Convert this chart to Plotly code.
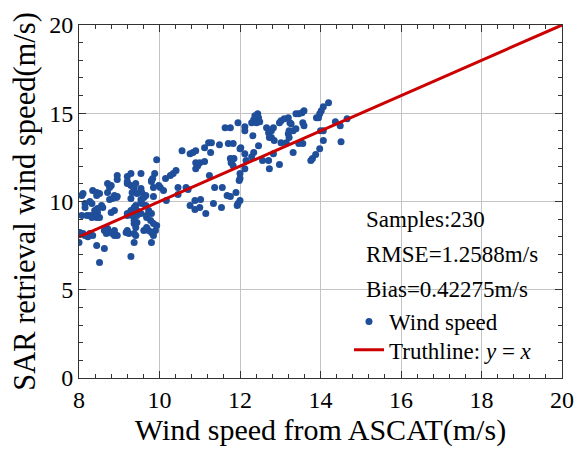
import plotly.graph_objects as go

# ASCAT wind speed (x) vs SAR retrieved wind speed (y)
ascat = [
    8.71, 8.80, 8.76, 9.20, 9.29, 9.80, 9.85, 10.02, 10.10, 8.10,
    8.07, 8.34, 8.44, 8.51, 8.44, 8.71, 8.88, 8.93, 8.83, 9.37,
    9.54, 9.56, 9.44, 9.32, 9.66, 9.61, 8.15, 8.56, 8.59, 8.32,
    9.41, 9.37, 9.56, 9.66, 8.07, 8.20, 8.27, 8.39, 8.46, 8.51,
    8.44, 8.32, 8.46, 8.39, 8.88, 8.80, 9.29, 9.37, 9.44, 9.54,
    9.44, 9.20, 9.32, 9.73, 9.68, 9.80, 9.78, 9.85, 9.37, 9.44,
    8.02, 8.10, 8.27, 8.34, 8.15, 8.63, 8.71, 8.68, 8.80, 8.83,
    8.88, 8.95, 9.17, 9.24, 9.20, 9.37, 9.41, 9.73, 9.80, 9.90,
    9.85, 8.00, 8.44, 8.63, 9.37, 9.80, 8.51, 9.29, 9.93, 8.95,
    8.95, 9.20, 9.29, 9.20, 9.54, 9.88, 9.83, 9.80, 10.15, 10.27,
    9.41, 8.27, 8.76, 8.95, 9.29, 9.54, 9.85, 8.15, 8.02, 8.22,
    8.88, 9.41, 9.61, 9.68, 9.93, 9.68, 9.37, 9.20, 9.54, 10.56,
    10.76, 10.83, 10.90, 11.12, 11.27, 11.49, 11.71, 11.83, 12.02, 12.12,
    11.76, 11.85, 11.78, 11.83, 10.90, 11.00, 11.12, 10.95, 10.90, 12.12,
    10.41, 10.34, 11.24, 12.00, 11.98, 9.98, 10.46, 10.66, 10.46, 11.37,
    11.56, 11.68, 11.76, 11.90, 12.00, 11.95, 11.93, 10.76, 10.88, 10.88,
    11.02, 11.00, 11.34, 11.54, 11.15, 10.17, 10.71, 12.44, 12.37, 12.46,
    12.34, 12.29, 12.41, 12.49, 12.66, 12.71, 12.73, 11.95, 12.12, 12.12,
    12.32, 11.63, 11.76, 11.22, 11.29, 12.00, 12.46, 12.34, 12.29, 11.80,
    12.15, 12.56, 12.71, 12.00, 14.20, 14.07, 14.02, 13.98, 13.59, 13.54,
    13.46, 13.39, 13.90, 13.95, 13.20, 13.10, 13.02, 12.98, 13.24, 13.27,
    13.56, 13.59, 14.37, 14.49, 14.66, 12.83, 12.78, 13.39, 13.32, 13.22,
    13.20, 14.00, 14.07, 12.78, 12.85, 13.02, 13.15, 13.22, 13.51, 13.56,
    13.46, 14.07, 14.51, 13.32, 12.83, 13.98, 13.88, 13.80, 13.76, 12.98,
    12.73,
]
sar = [
    11.02, 10.90, 10.79, 11.02, 10.90, 11.19, 10.79, 10.79, 10.62, 10.45,
    10.34, 10.62, 10.51, 10.45, 10.34, 10.51, 10.34, 10.23, 10.17, 10.73,
    10.73, 10.51, 10.45, 10.51, 10.34, 10.23, 9.89, 9.77, 9.66, 9.89,
    9.77, 9.66, 9.89, 9.77, 9.21, 9.21, 9.21, 9.32, 9.38, 9.10,
    9.10, 9.10, 9.60, 9.49, 9.49, 9.38, 9.49, 9.38, 9.49, 9.32,
    9.21, 9.32, 9.21, 9.49, 9.21, 9.32, 8.93, 8.76, 8.76, 8.81,
    8.25, 8.19, 8.19, 8.08, 8.08, 8.36, 8.47, 8.19, 8.25, 8.19,
    8.08, 8.08, 8.25, 8.19, 8.36, 8.19, 8.08, 8.36, 8.25, 8.36,
    8.08, 7.68, 7.51, 7.34, 7.68, 7.68, 6.55, 6.89, 12.37, 11.47,
    11.24, 11.41, 11.58, 11.13, 11.58, 11.58, 11.30, 11.13, 11.30, 11.47,
    11.02, 10.00, 10.11, 10.28, 10.17, 10.11, 10.28, 9.66, 8.14, 8.00,
    8.36, 8.53, 8.36, 8.53, 8.64, 9.10, 8.93, 9.21, 9.94, 12.88,
    12.71, 12.77, 12.88, 13.05, 12.77, 13.22, 13.28, 13.28, 13.05, 12.71,
    12.43, 12.43, 12.20, 12.03, 12.20, 12.20, 12.26, 12.03, 11.86, 11.86,
    11.75, 11.58, 11.47, 11.58, 11.19, 10.90, 10.79, 10.79, 10.40, 10.79,
    10.79, 10.34, 10.28, 10.51, 10.06, 9.89, 9.77, 9.77, 10.06, 9.55,
    10.11, 9.66, 9.89, 9.66, 9.32, 10.06, 10.68, 14.97, 14.86, 14.75,
    14.63, 14.46, 14.46, 14.52, 14.18, 13.90, 13.62, 14.46, 14.24, 14.01,
    13.73, 14.18, 14.18, 13.33, 13.33, 12.99, 13.16, 12.77, 12.54, 12.32,
    12.32, 12.32, 12.32, 11.30, 15.59, 15.37, 15.14, 14.97, 15.14, 15.03,
    14.97, 14.97, 14.75, 14.75, 14.75, 14.69, 14.58, 14.46, 14.46, 14.41,
    14.46, 14.29, 14.52, 14.29, 14.69, 14.18, 14.01, 14.12, 14.01, 14.01,
    13.84, 14.01, 14.01, 13.62, 13.45, 13.33, 13.33, 13.62, 13.33, 13.28,
    13.28, 13.45, 13.39, 12.77, 12.71, 12.99, 12.66, 12.43, 12.32, 12.09,
    11.86,
]
truth_x = [8, 20]
truth_y = [8, 20]

x_ticks = [8, 10, 12, 14, 16, 18, 20]
y_ticks = [0, 5, 10, 15, 20]
stats_text = ["Samples:230", "RMSE=1.2588m/s", "Bias=0.42275m/s"]
x_title = "Wind speed from ASCAT(m/s)"
y_title = "SAR retrieval wind speed(m/s)"

FONT = "Liberation Serif"

fig = go.Figure()
fig.add_trace(go.Scatter(
    x=ascat, y=sar, mode="markers", name="Wind speed",
    marker=dict(color="#1f4e9a", size=7, line=dict(width=0)),
    legend="legend", showlegend=True,
))
fig.add_trace(go.Scatter(
    x=truth_x, y=truth_y, mode="lines",
    name="Truthline: <i>y</i> = <i>x</i>",
    line=dict(color="#cc0000", width=3),
    legend="legend2", showlegend=True,
))

stat_y = [0.449, 0.349, 0.252]
for t, yy in zip(stats_text, stat_y):
    fig.add_annotation(
        text=t, xref="paper", yref="paper", x=0.590, y=yy,
        xanchor="left", yanchor="middle", showarrow=False,
        font=dict(family=FONT, size=23, color="black"),
    )

axis_common = dict(
    showline=True, linecolor="#333333", linewidth=1, mirror="ticks",
    ticks="inside", ticklen=7, tickcolor="#333333",
    showgrid=True, gridcolor="#c4c4c4", gridwidth=1,
    zeroline=False,
    tickfont=dict(family=FONT, size=24, color="black"),
)

fig.update_xaxes(
    range=[8, 20], tickvals=x_ticks, ticktext=[str(v) for v in x_ticks],
    title=dict(text=x_title,
               font=dict(family=FONT, size=30, color="black"), standoff=0),
    minor=dict(ticks="inside", ticklen=4, dtick=0.4, tick0=8,
               tickcolor="#333333", showgrid=False),
    **axis_common,
)
fig.update_yaxes(
    range=[0, 20], tickvals=y_ticks, ticktext=[str(v) for v in y_ticks],
    title=dict(text=y_title,
               font=dict(family=FONT, size=30.5, color="black"), standoff=4),
    minor=dict(ticks="inside", ticklen=4, dtick=1, tick0=0,
               tickcolor="#333333", showgrid=False),
    **axis_common,
)

leg_common = dict(
    xanchor="left", yanchor="middle",
    bgcolor="rgba(0,0,0,0)", borderwidth=0,
    font=dict(family=FONT, size=23, color="black"),
    itemwidth=30, visible=True,
)
fig.update_layout(
    width=586, height=450,
    margin=dict(l=79, r=15, t=24, b=72),
    plot_bgcolor="white", paper_bgcolor="white",
    font=dict(family=FONT, color="black"),
    showlegend=True,
    legend=dict(x=0.559, y=0.160, **leg_common),
    legend2=dict(x=0.559, y=0.080, **leg_common),
)

fig.write_html("out.html")
